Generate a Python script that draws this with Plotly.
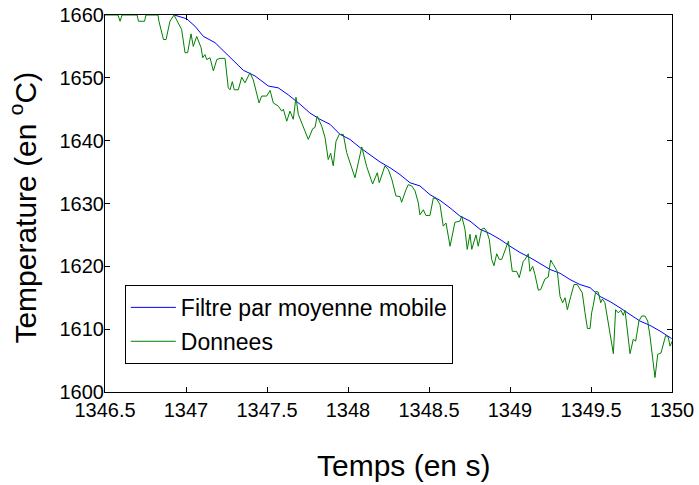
import plotly.graph_objects as go

# Raw data (green)
data_t = [1346.500, 1346.580, 1346.593, 1346.605, 1346.698, 1346.707, 1346.744, 1346.753, 1346.827, 1346.833,
          1346.861, 1346.877, 1346.901, 1346.926, 1346.973, 1346.994, 1347.010, 1347.031, 1347.045, 1347.066,
          1347.093, 1347.103, 1347.117, 1347.128, 1347.148, 1347.169, 1347.190, 1347.210, 1347.241, 1347.261,
          1347.272, 1347.286, 1347.298, 1347.323, 1347.344, 1347.364, 1347.395, 1347.415, 1347.451, 1347.467,
          1347.498, 1347.519, 1347.539, 1347.570, 1347.591, 1347.601, 1347.622, 1347.642, 1347.662, 1347.679,
          1347.693, 1347.714, 1347.755, 1347.782, 1347.796, 1347.810, 1347.838, 1347.858, 1347.878, 1347.893,
          1347.909, 1347.926, 1347.946, 1347.971, 1347.992, 1348.043, 1348.085, 1348.115, 1348.152, 1348.181,
          1348.193, 1348.228, 1348.249, 1348.270, 1348.296, 1348.321, 1348.331, 1348.358, 1348.372, 1348.393,
          1348.414, 1348.434, 1348.444, 1348.465, 1348.481, 1348.506, 1348.527, 1348.548, 1348.568, 1348.588,
          1348.605, 1348.630, 1348.660, 1348.691, 1348.702, 1348.722, 1348.736, 1348.753, 1348.764, 1348.790,
          1348.804, 1348.825, 1348.840, 1348.856, 1348.872, 1348.887, 1348.901, 1348.918, 1348.934, 1348.949,
          1348.969, 1348.990, 1349.014, 1349.041, 1349.057, 1349.082, 1349.093, 1349.113, 1349.123, 1349.140,
          1349.154, 1349.175, 1349.189, 1349.216, 1349.236, 1349.251, 1349.267, 1349.292, 1349.309, 1349.325,
          1349.340, 1349.354, 1349.375, 1349.395, 1349.415, 1349.432, 1349.446, 1349.463, 1349.478, 1349.494,
          1349.504, 1349.514, 1349.529, 1349.545, 1349.560, 1349.570, 1349.586, 1349.638, 1349.652, 1349.668,
          1349.685, 1349.699, 1349.710, 1349.741, 1349.761, 1349.776, 1349.796, 1349.813, 1349.833, 1349.850,
          1349.864, 1349.895, 1349.912, 1349.932, 1349.946, 1349.961, 1349.977, 1349.988, 1350.002]
data_temp = [1660.0, 1660.0, 1659.0, 1660.0, 1660.0, 1659.0, 1659.0, 1660.0, 1660.0, 1659.0,
             1656.1, 1656.1, 1659.0, 1660.0, 1657.7, 1654.0, 1654.0, 1657.0, 1655.0, 1656.6,
             1654.8, 1653.2, 1653.7, 1652.9, 1653.2, 1651.1, 1652.9, 1653.1, 1653.1, 1648.4,
             1648.1, 1649.4, 1648.1, 1648.1, 1650.1, 1649.2, 1650.8, 1649.7, 1646.0, 1647.1,
             1647.1, 1648.0, 1646.0, 1645.5, 1644.7, 1645.0, 1643.1, 1644.7, 1643.4, 1646.9,
             1644.2, 1642.8, 1640.2, 1641.9, 1642.1, 1643.9, 1642.3, 1640.5, 1637.0, 1638.0,
             1636.0, 1639.9, 1641.0, 1641.0, 1638.1, 1634.1, 1639.0, 1635.9, 1633.1, 1634.9,
             1633.3, 1636.0, 1635.4, 1633.9, 1631.2, 1631.1, 1630.2, 1632.2, 1633.0, 1632.8,
             1632.0, 1630.1, 1628.2, 1629.0, 1628.1, 1628.1, 1630.9, 1630.7, 1629.8, 1626.4,
             1626.9, 1623.2, 1627.0, 1627.2, 1628.0, 1625.9, 1622.7, 1625.1, 1622.7, 1625.0,
             1623.2, 1625.9, 1626.1, 1625.6, 1624.3, 1621.1, 1620.1, 1622.0, 1621.1, 1621.1,
             1622.7, 1624.0, 1619.2, 1619.2, 1618.2, 1620.8, 1621.1, 1622.0, 1619.2, 1620.0,
             1618.7, 1616.2, 1616.3, 1618.0, 1618.3, 1621.0, 1620.3, 1619.2, 1615.2, 1614.2,
             1615.0, 1613.1, 1615.2, 1617.1, 1617.1, 1616.3, 1615.8, 1612.6, 1610.1, 1610.1,
             1612.6, 1613.8, 1616.0, 1615.9, 1614.2, 1614.8, 1614.2, 1606.1, 1613.1, 1612.6,
             1613.0, 1612.2, 1613.0, 1606.1, 1608.4, 1608.1, 1611.3, 1612.1, 1612.1, 1611.3,
             1608.9, 1602.3, 1606.0, 1606.2, 1607.6, 1609.0, 1608.7, 1607.3, 1608.1]

# Moving-average filter (blue)
filt_t = [1346.928, 1347.004, 1347.056, 1347.107, 1347.179, 1347.241, 1347.302, 1347.354, 1347.426, 1347.508,
          1347.570, 1347.631, 1347.704, 1347.765, 1347.827, 1347.889, 1347.951, 1348.012, 1348.074, 1348.136,
          1348.198, 1348.259, 1348.321, 1348.383, 1348.444, 1348.506, 1348.568, 1348.630, 1348.691, 1348.753,
          1348.815, 1348.877, 1348.938, 1349.000, 1349.062, 1349.123, 1349.185, 1349.247, 1349.309, 1349.370,
          1349.432, 1349.494, 1349.556, 1349.617, 1349.679, 1349.741, 1349.802, 1349.864, 1349.926, 1349.998]
filt_temp = [1660.0, 1659.4, 1658.2, 1656.6, 1655.6, 1654.0, 1652.5, 1651.2, 1650.3, 1648.7,
             1648.4, 1647.3, 1645.8, 1644.4, 1643.4, 1642.6, 1641.0, 1640.2, 1638.9, 1637.8,
             1636.6, 1635.7, 1634.6, 1633.3, 1632.8, 1631.4, 1630.5, 1629.3, 1628.0, 1627.2,
             1625.9, 1625.2, 1624.3, 1623.2, 1622.2, 1621.4, 1620.4, 1619.5, 1618.9, 1617.9,
             1617.1, 1616.6, 1615.2, 1614.4, 1613.4, 1612.3, 1611.3, 1610.6, 1609.7, 1608.5]

x_ticks = [1346.5, 1347, 1347.5, 1348, 1348.5, 1349, 1349.5, 1350]
x_tick_text = ["1346.5", "1347", "1347.5", "1348", "1348.5", "1349", "1349.5", "1350"]
y_ticks = [1600, 1610, 1620, 1630, 1640, 1650, 1660]

x_title = "Temps (en s)"
y_title = "Temperature (en <sup>o</sup>C)"

FONT = "Liberation Sans, Arial, Helvetica, sans-serif"

fig = go.Figure()
fig.add_trace(go.Scatter(x=filt_t, y=filt_temp, mode="lines", name="Filtre par moyenne mobile",
                         line=dict(color="#0000ff", width=1), legendgroup="a"))
fig.add_trace(go.Scatter(x=data_t, y=data_temp, mode="lines", name="Donnees",
                         line=dict(color="#008000", width=1), legendgroup="b"))

fig.update_layout(
    width=699, height=485,
    margin=dict(l=105, r=27, t=15, b=93, autoexpand=False),
    paper_bgcolor="white", plot_bgcolor="white",
    font=dict(family=FONT, color="black", size=20),
    showlegend=True,
    legend=dict(x=0.035, y=0.284, xanchor="left", yanchor="top",
                bgcolor="white", bordercolor="black", borderwidth=1,
                font=dict(size=23), tracegroupgap=1, traceorder="grouped",
                itemwidth=45),
    xaxis=dict(range=[1346.5, 1350], tickvals=x_ticks, ticktext=x_tick_text,
               ticks="inside", ticklen=5, tickwidth=1, tickcolor="black",
               showline=True, linecolor="black", linewidth=1, mirror="ticks",
               showgrid=False, zeroline=False, tickfont=dict(size=20),
               ticklabeloverflow="allow"),
    yaxis=dict(range=[1600, 1660], tickvals=y_ticks,
               ticks="inside", ticklen=5, tickwidth=1, tickcolor="black",
               showline=True, linecolor="black", linewidth=1, mirror="ticks",
               showgrid=False, zeroline=False, tickfont=dict(size=20),
               ticklabelstandoff=-4, ticklabeloverflow="allow"),
    annotations=[
        dict(text=x_title, xref="paper", yref="paper", x=0.527, y=-0.194,
             xanchor="center", yanchor="middle", showarrow=False,
             font=dict(size=30, family=FONT, color="black")),
        dict(text=y_title, xref="paper", yref="paper", x=-0.144, y=0.49,
             xanchor="center", yanchor="middle", showarrow=False, textangle=-90,
             font=dict(size=30, family=FONT, color="black")),
    ],
)

# remove the page's default body margin so the figure sits at the window's corner
fig.write_html("out.html", config={"displayModeBar": False},
               post_script="document.body.style.margin='0px';")
